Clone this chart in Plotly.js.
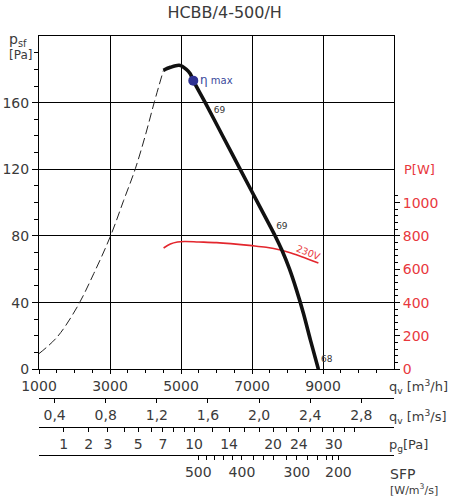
<!DOCTYPE html>
<html><head><meta charset="utf-8">
<script src="https://cdn.plot.ly/plotly-3.0.1.min.js"></script>
<style>html,body{margin:0;padding:0;background:#fff}</style>
</head><body><div id="chart" style="width:452px;height:497px"></div>
<script>
// ---- data ----
const chartTitle = 'HCBB/4-500/H';
const systemQ = [1000,1512,2075,2542,3011,3386,3714,3996,4249,4505];
const systemP = [9.4,19.4,37.4,57.4,79.8,101.4,120.4,140.4,160.4,179.4];
const fanQ = [4505,4700,4950,5150,5260,5346,5683,6175,6668,7160,7653,7850,8050,8250,8450,8650,8870];
const fanP = [179.4,181.2,182.4,180.0,177.3,173.2,160,140,120,100,80,71.1,60.5,47.8,33.5,17.2,0];
const powerQ = [4510,4700,4900,5100,5500,6000,6400,7000,7400,7800,8100,8400,8870];
const powerW = [728,752,764,767,764,760,754,742,732,716,698,676,638];
const etaMaxQ = [5346];
const etaMaxP = [173.2];
const effLabels = ['69','69','68'];
const effQ = [6086,7841,9107];
const effP = [155.3,85.7,5.8];
const qhTicks = [1000,3000,5000,7000,9000];
const qsTicks = [0.4,0.8,1.2,1.6,2.0,2.4,2.8];
const qsLabels = ['0,4','0,8','1,2','1,6','2,0','2,4','2,8'];
const pgLabeled = [1,2,3,5,7,10,14,20,24,30];
const pgUnlabeled = [4,6,8,9,12,16,18,22,26,28,32,34];
const pgFactor = 1698; // m3/h per sqrt(Pa)
const sfpLabels = [500,400,300,200];
const sfpAtQ = [5487,6716,8263,9433];
const sfpMinorQ = [5710,5950,6200,6460,7042,7323,7605,7962,8561,8842,9107,9276];
const pTicks = [0,40,80,120,160];
const wTicks = [0,200,400,600,800,1000];

// ---- layout helpers ----
const W = 452, H = 497, L = 39, R = 58, T = 36, B = 30;
const plotH = H - T - B;
const py = y => (H - B - y) / plotH;
const px = x => (x - L) / (W - L - R);

const FONT = 'DejaVu Sans';
const TXT = '#3a3a3a';
const RED = '#e8383d';

const xMinor = [], yMinor = [], wMinor = [];
for (let v = 1500; v < 11000; v += 500) if ((v - 1000) % 2000 !== 0) xMinor.push(v);
for (let v = 10; v < 200; v += 10) if (v % 40 !== 0) yMinor.push(v);
for (let v = 40; v <= 1040; v += 40) if (v % 200 !== 0) wMinor.push(v);

const base = {
  showline: true, linecolor: '#000', linewidth: 1, ticks: 'outside', tickcolor: '#000',
  tickwidth: 1, zeroline: false, fixedrange: true, automargin: false,
  tickfont: {family: FONT, size: 14, color: TXT}
};
const xr = [1000, 11000];
const pgPos = p => pgFactor * Math.sqrt(p);

const traces = [
  {x: systemQ, y: systemP, xaxis: 'x', yaxis: 'y', mode: 'lines', hoverinfo: 'skip',
   line: {color: '#222', width: 1, dash: '9px,4px', shape: 'spline'}},
  {x: powerQ, y: powerW, xaxis: 'x', yaxis: 'y2', mode: 'lines', hoverinfo: 'skip',
   line: {color: '#e3262d', width: 1.6, shape: 'spline'}},
  {x: fanQ, y: fanP, xaxis: 'x2', yaxis: 'y', mode: 'lines', hoverinfo: 'skip',
   line: {color: '#111', width: 3.6, shape: 'spline', smoothing: 0.8}},
  {x: effQ, y: effP, text: effLabels, xaxis: 'x3', yaxis: 'y', mode: 'text', hoverinfo: 'skip',
   textfont: {family: FONT, size: 9, color: '#333'}},
  {x: etaMaxQ, y: etaMaxP, xaxis: 'x4', yaxis: 'y', mode: 'markers', hoverinfo: 'skip',
   marker: {size: 10, color: '#2e3192'}}
];

const ann = (x, y, text, opts) => Object.assign({x: px(x), y: py(y), xref: 'paper', yref: 'paper',
  text, showarrow: false, xanchor: 'left', yanchor: 'middle',
  font: {family: FONT, size: 13, color: TXT}}, opts || {});

const minorTicks = (vals, len) => ({tickmode: 'array', tickvals: vals, ticks: 'outside', ticklen: len, tickcolor: '#000', showgrid: false});

const layout = {
  width: W, height: H, margin: {l: L, r: R, t: T, b: B},
  paper_bgcolor: '#fff', plot_bgcolor: '#fff', showlegend: false, hovermode: false,
  font: {family: FONT, color: TXT},
  title: {text: chartTitle, font: {family: FONT, size: 16, color: TXT},
          x: 0.497, xref: 'container', xanchor: 'center', y: 1 - 12.5 / H, yref: 'container', yanchor: 'middle'},
  xaxis: Object.assign({}, base, {range: xr, anchor: 'y', mirror: true, tickmode: 'array',
    tickvals: qhTicks, ticktext: qhTicks.map(String), ticklen: 4,
    showgrid: true, gridcolor: '#000', gridwidth: 1, minor: minorTicks(xMinor, 3)}),
  xaxis2: Object.assign({}, base, {range: xr, overlaying: 'x', anchor: 'free', position: py(398.3), side: 'bottom',
    tickmode: 'array', tickvals: qsTicks.map(v => v * 3600), ticktext: qsLabels, ticklen: 4, showgrid: false}),
  xaxis3: Object.assign({}, base, {range: xr, overlaying: 'x', anchor: 'free', position: py(426.7), side: 'bottom',
    tickmode: 'array', tickvals: pgLabeled.map(pgPos), ticktext: pgLabeled.map(String), ticklen: 4, showgrid: false,
    minor: minorTicks(pgUnlabeled.map(pgPos), 4)}),
  xaxis4: Object.assign({}, base, {range: xr, overlaying: 'x', anchor: 'free', position: py(455), side: 'bottom',
    tickmode: 'array', tickvals: sfpAtQ, ticktext: sfpLabels.map(String), ticklen: 4, showgrid: false,
    minor: minorTicks(sfpMinorQ, 4)}),
  yaxis: Object.assign({}, base, {range: [0, 200], domain: [py(369.3), 1], anchor: 'x', mirror: true,
    tickmode: 'array', tickvals: pTicks, ticktext: pTicks.map(String), ticklen: 6,
    showgrid: true, gridcolor: '#000', gridwidth: 1, minor: minorTicks(yMinor, 4)}),
  yaxis2: Object.assign({}, base, {range: [0, 2000], overlaying: 'y', side: 'right', anchor: 'x',
    tickmode: 'array', tickvals: wTicks, ticktext: wTicks.map(String), ticklen: 5, showgrid: false,
    tickfont: {family: FONT, size: 14, color: RED}, minor: minorTicks(wMinor, 3)}),
  annotations: [
    ann(387, 387, 'q<sub>v</sub> [m<sup>3</sup>/h]'),
    ann(387, 417, 'q<sub>v</sub> [m<sup>3</sup>/s]'),
    ann(387, 445, 'p<sub>g</sub>[Pa]'),
    ann(388, 474, 'SFP', {font: {family: FONT, size: 14, color: TXT}}),
    ann(388, 490, '[W/m<sup>3</sup>/s]', {font: {family: FONT, size: 11, color: TXT}}),
    ann(7, 40, 'p<sub>sf</sub>', {font: {family: FONT, size: 14, color: TXT}}),
    ann(7, 55, '[Pa]', {font: {family: FONT, size: 12, color: TXT}}),
    ann(402, 170, 'P[W]', {font: {family: FONT, size: 13, color: RED}}),
    {x: 5470, y: 173.7, xref: 'x', yref: 'y', xanchor: 'left', yanchor: 'middle', showarrow: false,
     text: '<span style="font-size:12px">η</span> max', font: {family: FONT, size: 10, color: '#3a4a9c'}},
    {x: 8590, y: 703, xref: 'x', yref: 'y2', xanchor: 'center', yanchor: 'middle', showarrow: false,
     text: '230V', textangle: 22, font: {family: FONT, size: 9.5, color: RED}}
  ]
};

Plotly.newPlot('chart', traces, layout, {displayModeBar: false, staticPlot: true});
</script></body></html>
